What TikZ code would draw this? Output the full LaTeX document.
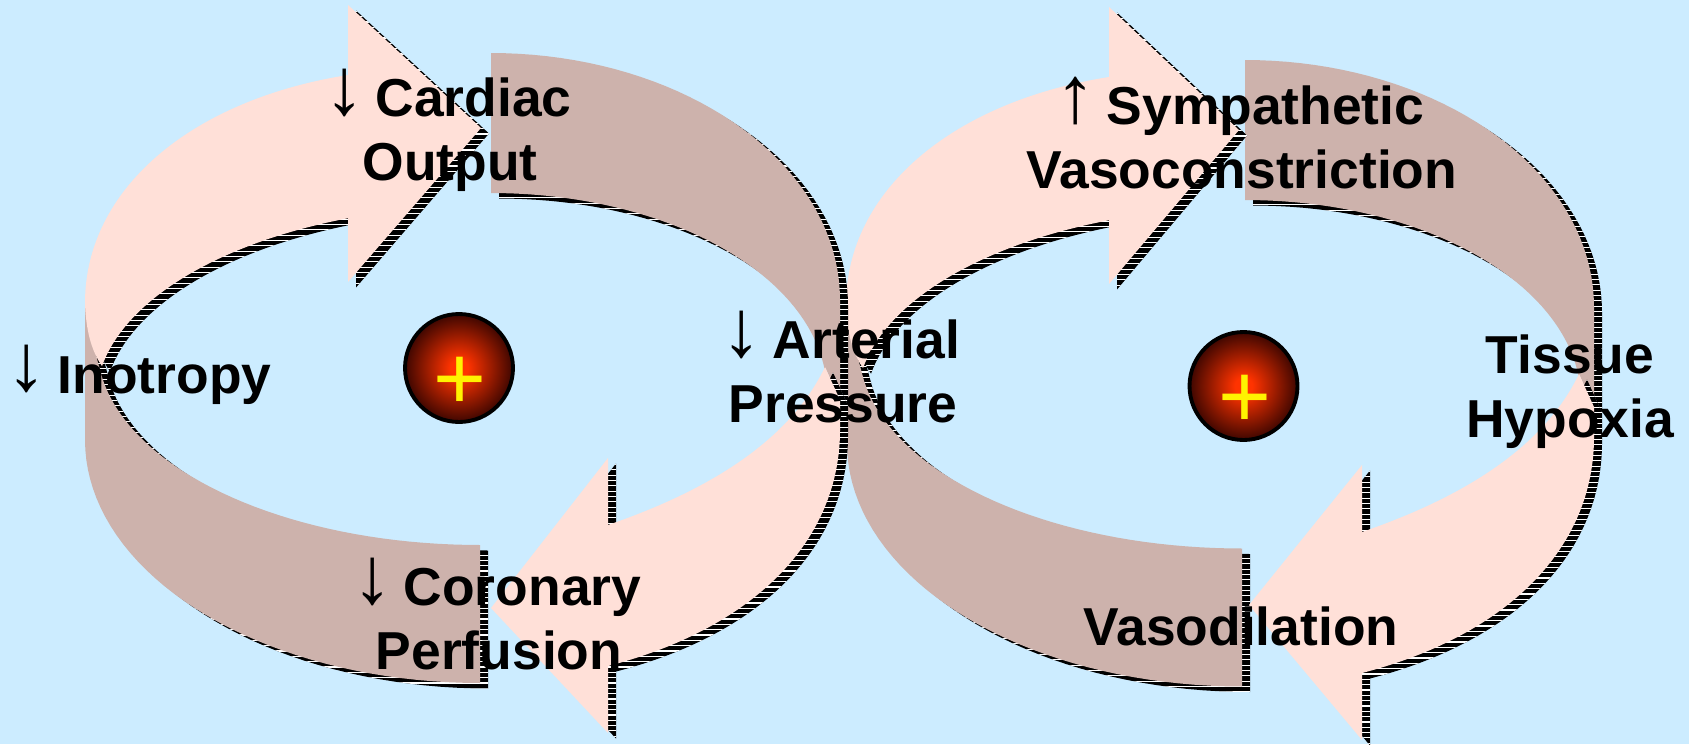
\documentclass[tikz,border=0pt]{standalone}
\usepackage{fontspec}
\setmainfont{Liberation Sans}
\newfontfamily\arrowfont{Liberation Serif}
\definecolor{bgblue}{HTML}{CCECFF}
\definecolor{pinkarrow}{HTML}{FFE0D8}
\definecolor{brownband}{HTML}{CDB2AC}
\definecolor{coreorange}{HTML}{FF3300}
\definecolor{edgedark}{HTML}{2C0200}
\pgfdeclareradialshading{hubglow}{\pgfpoint{0bp}{0bp}}{color(0bp)=(coreorange); color(4bp)=(coreorange); color(27bp)=(edgedark); color(50bp)=(edgedark)}
\newcommand{\dn}{{\arrowfont\makebox[18.3pt]{\raisebox{1.5pt}{\fontsize{46}{46}\selectfont ↓}}}\ }
\newcommand{\up}{{\arrowfont\makebox[18.3pt]{\raisebox{1.5pt}{\fontsize{46}{46}\selectfont ↑}}}\ }
\def\brownTop{(491,53) -- plot[domain=270:360,samples=40] ({491+349*cos(\x)},{300+247*sin(\x)}) -- (840,400) -- (825,367) -- plot[domain=353.7:270,samples=40] ({491+336*cos(\x)},{393+200*sin(\x)}) -- cycle}
\def\brownLow{(480,545) -- plot[domain=90:172.7,samples=40] ({480+383*cos(\x)},{345+200*sin(\x)}) -- (92,340) -- (85,303) -- (85,440) -- plot[domain=180:90,samples=40] ({480+395*cos(\x)},{440+243*sin(\x)}) -- cycle}
\def\pinkTop#1{(85,303) .. controls (85,190) and (190,100) .. (348,75) -- (348,5) -- (#1) -- (348,282) -- (348,215) -- plot[domain=248.8:190,samples=40] ({491+395*cos(\x)},{400+195*sin(\x)}) .. controls (91,350) and (86,330) .. (85,303) -- cycle}
\def\pinkLow#1{(825,367) .. controls (790,440) and (710,490) .. (608,525) -- (608,458) -- (#1) -- (608,733) -- (608,666) .. controls (755,628) and (840,540) .. (840,430) -- (840,400) -- cycle}
\newcommand{\shadowed}[3]{%
  \begin{scope}[shift={#1}]
    \begin{scope}[shift={(8,5.5)}]
      \fill[black] #2;
      \begin{scope}
        \clip #2;
        \foreach \i in {-10,...,150} {\fill[white] (-100,{\i*5.33}) rectangle (1000,{\i*5.33+1.1});}
      \end{scope}
    \end{scope}
    \fill[#3] #2;
  \end{scope}}
\tikzset{
  lab/.style={font=\fontsize{30.4}{36}\selectfont\bfseries, align=center, anchor=base, inner sep=0pt, text=black},
  hub/.style={circle, draw=black, line width=2.2pt, minimum size=2.16cm, inner sep=0pt, shading=hubglow},
  plus/.style={font=\fontsize{51.6}{52}\selectfont, text=yellow, anchor=base, inner sep=0pt}
}
\begin{document}
\begin{tikzpicture}[x=0.02cm,y=-0.02cm]
\useasboundingbox (0,0) rectangle (1689,744);
\fill[bgblue] (0,0) rectangle (1689,744);
% right loop
\shadowed{(754,7)}{\brownTop}{brownband}
\shadowed{(762,3.5)}{\brownLow}{brownband}
\shadowed{(761,2)}{\pinkTop{478,128}}{pinkarrow}
\shadowed{(754,7)}{\pinkLow{495,598}}{pinkarrow}
% left loop
\shadowed{(0,0)}{\brownTop}{brownband}
\shadowed{(0,0)}{\brownLow}{brownband}
\shadowed{(0,0)}{\pinkTop{481,128}}{pinkarrow}
\shadowed{(0,0)}{\pinkLow{491,608}}{pinkarrow}
% hubs
\node[hub] (hubL) at (459,368) {};
\node[plus] (plusL) at (459.5,409) {+};
\node[hub] (hubR) at (1243.5,386) {};
\node[plus] (plusR) at (1245,427) {+};
% labels
\node[lab] (co) at (450,180) {\dn Cardiac\\Output};
\node[lab] (ap) at (843,422) {\dn Arterial\\Pressure};
\node[lab] (ino) at (141,393) {\dn Inotropy};
\node[lab] (cp) at (499,669) {\dn Coronary\\Perfusion};
\node[lab] (sv) at (1242,188) {\up Sympathetic\\Vasoconstriction};
\node[lab] (th) at (1570,437) {Tissue\\Hypoxia};
\node[lab] (vd) at (1241,645) {Vasodilation};
\end{tikzpicture}
\end{document}
